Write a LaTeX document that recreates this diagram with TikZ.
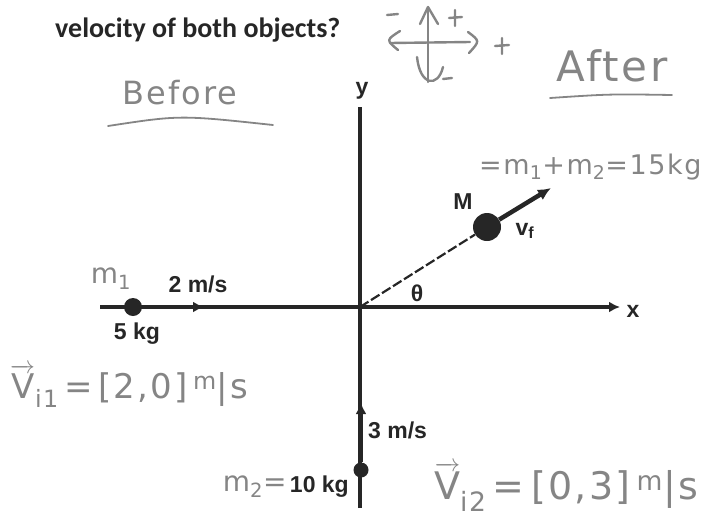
\documentclass[tikz,border=0pt]{standalone}
\usepackage{fontspec}
\usepackage{amsmath}
\setmainfont{Liberation Sans}
\newfontfamily\titlefont{Carlito}
\newfontfamily\handfont[LetterSpace=6]{DejaVu Sans}
\usetikzlibrary{positioning,calc,arrows.meta}
\definecolor{pencil}{gray}{0.52}

\begin{document}
\begin{tikzpicture}[x=1pt,y=-1pt,
    lbl/.style={font=\bfseries\fontsize{23}{23}\selectfont,text=black!85,inner sep=1pt},
    hand/.style={text=pencil,font=\handfont\fontsize{#1}{#1}\selectfont,inner sep=0pt},
    hand/.default=28,
    pen/.style={draw=pencil,line width=2.4pt,line cap=round,line join=round},
    axis/.style={line width=4.5pt,draw=black!85},
    mass/.style={circle,fill=black!85,inner sep=0pt,minimum size=#1}]
\useasboundingbox (0,0) rectangle (709,520);

% question text
\node[anchor=base west,font=\titlefont\bfseries\fontsize{28}{28}\selectfont,text=black!85,inner sep=0pt] (quest) at (55,37) {velocity of both objects?};

% sign convention (hand drawn)
\draw[pen] (428,82) -- (428,8);
\draw[pen] (420,24) -- (428,7) -- (438,24);
\draw[pen] (417,57) .. controls (420,86) and (438,88) .. (443,67);
\draw[pen] (390,43) -- (470,42);
\draw[pen] (400,31) .. controls (386,40) .. (398,50);
\draw[pen] (468,32) .. controls (480,41) .. (469,53);
\draw[pen] (387,15) -- (398,14);
\draw[pen] (449,18) -- (462,17) (455,10) -- (455,26);
\draw[pen] (443,79) -- (452,78);
\draw[pen] (495,46) -- (509,45) (502,38) -- (502,54);

% before / after
\node[hand=32] (before) at (180,93) {Before};
\draw[pen,line width=1.8pt] (108,126) .. controls (180,115) .. (273,125);
\node[hand=42] (after) at (612,66) {After};
\draw[pen,line width=1.8pt] (550,98) .. controls (610,94) .. (672,95);

% axes
\coordinate (O) at (360,307);
\coordinate (ytop) at (360,107);
\coordinate (ybot) at (360,508);
\coordinate (xleft) at (100,307);
\coordinate (xright) at (620,307);
\draw[axis] (ybot) -- (ytop);
\draw[axis,-{Latex[length=11pt,width=11pt]}] (xleft) -- (xright);
\node[lbl] (ylab) at (362,91) {y};
\node[lbl] (xlab) at (633,311) {x};

% object 1
\node[mass=18pt] (m1) at (133,307) {};
\coordinate (v1) at (204,307);
\draw[axis,-{Latex[length=11pt,width=11pt]}] (m1) -- (v1);
\node[lbl] (v1lab) at (198,284) {2 m/s};
\node[lbl] (m1kg) at (137,334) {5 kg};
\node[hand=28] (m1hand) at (111,279) {m\textsubscript{1}};
\node[hand=34,anchor=west] (vi1) at (10,386) {\(\overrightarrow{\text{V}}_{\text{i1}}\)\,=\,[2,0]\,\(^{\text{m}}\)|s};

% object 2
\node[mass=15pt] (m2) at (361,470) {};
\coordinate (v2) at (361,403);
\draw[axis,-{Latex[length=11pt,width=11pt]}] (m2) -- (v2);
\node[lbl,anchor=west] (v2lab) at (367,430) {3 m/s};
\node[lbl,anchor=east] (m2kg) at (350,487) {10 kg};
\node[hand=28,anchor=east] (m2hand) at ([xshift=-2pt]m2kg.west) {m\textsubscript{2}=};
\node[hand=38,anchor=west] (vi2) at (434,487) {\(\overrightarrow{\text{V}}_{\text{i2}}\)\,=\,[0,3]\,\(^{\text{m}}\)|s};

% combined mass after collision
\node[mass=28pt] (M) at (487,227) {};
\draw[dash pattern=on 10pt off 3pt,line width=2.2pt,draw=black!85] (O) -- (M);
\coordinate (vf) at (551,188);
\draw[line width=4.5pt,draw=black!85,-{Latex[length=13pt,width=12pt]}] (M) -- (vf);
\node[lbl] (Mlab) at (463,202) {M};
\node[lbl] (vflab) at (525,231) {v\textsubscript{f}};
\node[lbl] (theta) at (417,293) {θ};
\node[hand=27,anchor=west] (msum) at (479,167) {=m\textsubscript{1}+m\textsubscript{2}=15kg};

\end{tikzpicture}
\end{document}
